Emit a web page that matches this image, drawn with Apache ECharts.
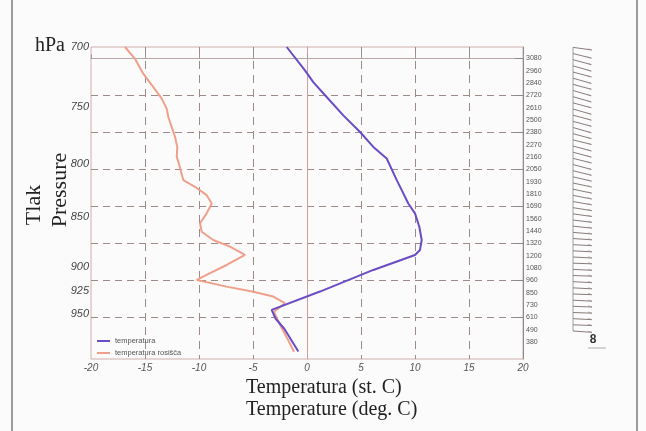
<!DOCTYPE html>
<html>
<head>
<meta charset="utf-8">
<script src="https://cdn.jsdelivr.net/npm/echarts@6/dist/echarts.min.js"></script>
<style>html,body{margin:0;padding:0;background:#fbfbfb}#c{width:646px;height:431px}</style>
</head>
<body>
<div id="c"></div>
<script>
// ---- data ----
var tempP = [700, 719, 728.7, 741.2, 756.9, 771.4, 784.7, 795.2, 815.1, 824.4, 837.1, 846.6, 859.7, 872.8, 882.9, 887.9, 903.2, 925.8, 945.4, 955, 966, 991.4];
var tempT = [-1.88, -0.19, 0.58, 1.82, 3.36, 4.91, 6.14, 7.38, 8.31, 8.77, 9.38, 10.0, 10.4, 10.62, 10.46, 10.0, 6.14, 1.2, -3.27, -2.9, -2.1, -0.8];
var dewP = [700, 709.5, 721.7, 732.8, 742.6, 751.1, 758.3, 767.0, 775.8, 784.7, 793.7, 801.3, 815.1, 821.3, 829.2, 837.1, 846.6, 856.3, 864.6, 872.8, 879.5, 887.9, 898.1, 906.6, 913.6, 920.6, 925.9, 931.1, 938.2, 947.5, 961.6, 978.2, 991.7];
var dewT = [-16.85, -15.93, -15.16, -14.23, -13.45, -12.99, -12.84, -12.53, -12.22, -12.01, -12.06, -11.82, -11.45, -10.37, -9.29, -8.82, -9.29, -9.91, -9.75, -8.68, -7.13, -5.74, -7.44, -8.98, -10.21, -7.44, -4.97, -3.12, -2.04, -3.06, -2.5, -1.76, -1.2];
var pressureTicks = [700, 750, 800, 850, 900, 925, 950];
var tempTicks = [-20, -15, -10, -5, 0, 5, 10, 15, 20];
var heightLabels = ['3080','2960','2840','2720','2610','2500','2380','2270','2160','2050','1930','1810','1690','1560','1440','1320','1200','1080','960','850','730','610','490','380'];
var heightMajor = [0, 3, 6, 9, 12, 15, 18, 21];
var barbLevel = [-0.9,-0.4,0.1,0.6,1.1,1.6,2.1,2.6,3.1,3.6,4.1,4.6,5.1,5.6,6.1,6.6,7.1,7.6,8.1,8.6,9.1,9.6,10.1,10.6,11.1,11.6,12.1,12.6,13.1,13.6,14.1,14.6,15.1,15.6,16.1,16.6,17.1,17.6,18.1,18.6,19.1,19.6,20.1,20.6,21.1,21.6,22.1];
var barbAngle = [8,14,15,16,15,16,15,16,16,15,16,15,15,16,15,14,15,15,14,15,14,13,12,12,11,10,9,8,7,6,5,4,3,3,3,2,3,2,3,3,2,3,2,2,3,2,4];
var seriesNames = ['temperatura', 'temperatura rosišča'];

var chart = echarts.init(document.getElementById('c'));
var serif = '"Liberation Serif","DejaVu Serif",serif';
var gridCol = '#9d8b88';
var option = {
  backgroundColor: '#fbfbfb',
  animation: false,
  grid: [
    {left: 91, top: 47, width: 432, height: 312, show: true, borderColor: '#cfaeae', borderWidth: 1},
    {left: 573, top: 47, width: 30, height: 312}
  ],
  xAxis: [
    {type: 'value', gridIndex: 0, min: -20, max: 20, interval: 5,
     axisLine: {show: true, lineStyle: {color: '#b9a8a8', width: 1}},
     axisTick: {show: true, inside: true, length: 4, lineStyle: {color: '#999'}},
     axisLabel: {color: '#555', fontSize: 10, fontStyle: 'italic', fontFamily: 'Liberation Sans', margin: 4},
     splitLine: {show: true, showMinLine: false, showMaxLine: false, lineStyle: {color: gridCol, type: [8, 6], width: 1}}},
    {type: 'value', gridIndex: 1, min: 0, max: 1, show: false}
  ],
  yAxis: [
    {type: 'value', gridIndex: 0, inverse: true, min: Math.log(700), max: Math.log(1000),
     axisLine: {show: true, lineStyle: {color: '#d49c9c', width: 1}},
     axisTick: {show: false},
     splitLine: {show: false},
     axisLabel: {customValues: pressureTicks.map(function (p) { return Math.log(p); }),
       formatter: function (v) { return String(Math.round(Math.exp(v))); },
       color: '#444', fontSize: 11, fontStyle: 'italic', fontFamily: 'Liberation Sans', margin: 2}},
    {type: 'value', gridIndex: 0, position: 'right', inverse: true, min: -0.93, max: 24.37,
     axisLine: {show: true, lineStyle: {color: '#8a8a8a', width: 1}},
     axisTick: {show: true, inside: true, length: 8, customValues: heightMajor, lineStyle: {color: '#8a8a8a'}},
     splitLine: {show: true, lineStyle: {color: gridCol, type: [7, 5], width: 1}},
     axisLabel: {customValues: heightLabels.map(function (s, i) { return i; }),
       formatter: function (v) { return heightLabels[Math.round(v)]; },
       color: '#555', fontSize: 7, fontFamily: 'Liberation Sans', margin: 3}},
    {type: 'value', gridIndex: 1, inverse: true, min: -0.93, max: 24.37, show: false}
  ],
  legend: {
    left: 92, top: 332, orient: 'vertical', itemWidth: 13, itemHeight: 2, itemGap: 4, icon: 'rect',
    textStyle: {fontSize: 7.5, color: '#555', fontFamily: 'Liberation Sans'},
    data: seriesNames
  },
  series: [
    {name: seriesNames[0], type: 'line', xAxisIndex: 0, yAxisIndex: 0, symbol: 'none', smooth: false,
     lineStyle: {color: '#6a4cc4', width: 2}, itemStyle: {color: '#6a4cc4'},
     data: tempP.map(function (p, i) { return [tempT[i], Math.log(p)]; }), z: 4},
    {name: seriesNames[1], type: 'line', xAxisIndex: 0, yAxisIndex: 0, symbol: 'none', smooth: false,
     lineStyle: {color: '#f0a08a', width: 2}, itemStyle: {color: '#f0a08a'},
     data: dewP.map(function (p, i) { return [dewT[i], Math.log(p)]; }), z: 3},
    {type: 'line', xAxisIndex: 1, yAxisIndex: 2, symbol: 'none', silent: true,
     lineStyle: {color: '#888', width: 0.8},
     data: [[0, barbLevel[0]], [0, barbLevel[barbLevel.length - 1]]]},
    {type: 'custom', xAxisIndex: 1, yAxisIndex: 2, silent: true,
     encode: {x: 0, y: 1},
     data: barbLevel.map(function (l, i) { return [0, l, barbAngle[i]]; }),
     renderItem: function (params, api) {
       var p = api.coord([api.value(0), api.value(1)]);
       var a = api.value(2) * Math.PI / 180, L = 19;
       var x2 = p[0] + L * Math.cos(a), y2 = p[1] + L * Math.sin(a);
       return {type: 'group', children: [
         {type: 'line', shape: {x1: p[0], y1: p[1], x2: x2, y2: y2}, style: {stroke: '#7a6e6e', lineWidth: 0.9}},
         {type: 'line', shape: {x1: x2 - 4, y1: y2 - 1.2, x2: x2, y2: y2}, style: {stroke: '#a08c8c', lineWidth: 0.7}}
       ]};
     }}
  ],
  graphic: [
    {type: 'line', shape: {x1: 12, y1: 0, x2: 12, y2: 431}, style: {stroke: '#7d7d7d', lineWidth: 1.5}},
    {type: 'line', shape: {x1: 637, y1: 0, x2: 637, y2: 431}, style: {stroke: '#7d7d7d', lineWidth: 1.5}},
    {type: 'text', left: 35, top: 36, style: {text: 'hPa', font: '20px ' + serif, fill: '#222'}},
    {type: 'text', x: 34, y: 205, rotation: Math.PI / 2, style: {text: 'Tlak', font: '22px ' + serif, fill: '#222', align: 'center', verticalAlign: 'middle'}},
    {type: 'text', x: 60, y: 190, rotation: Math.PI / 2, style: {text: 'Pressure', font: '22px ' + serif, fill: '#222', align: 'center', verticalAlign: 'middle'}},
    {type: 'text', x: 246, y: 388, style: {text: 'Temperatura (st. C)', font: '20px ' + serif, fill: '#222', verticalAlign: 'middle'}},
    {type: 'text', x: 246, y: 410, style: {text: 'Temperature (deg. C)', font: '20px ' + serif, fill: '#222', verticalAlign: 'middle'}},
    {type: 'text', x: 593, y: 340, style: {text: '8', font: 'bold 12px "Liberation Sans"', fill: '#333', align: 'center', verticalAlign: 'middle'}},
    {type: 'line', shape: {x1: 588, y1: 348, x2: 606, y2: 348}, style: {stroke: '#999', lineWidth: 0.8}}
  ]
};
chart.setOption(option);
</script>
</body>
</html>
